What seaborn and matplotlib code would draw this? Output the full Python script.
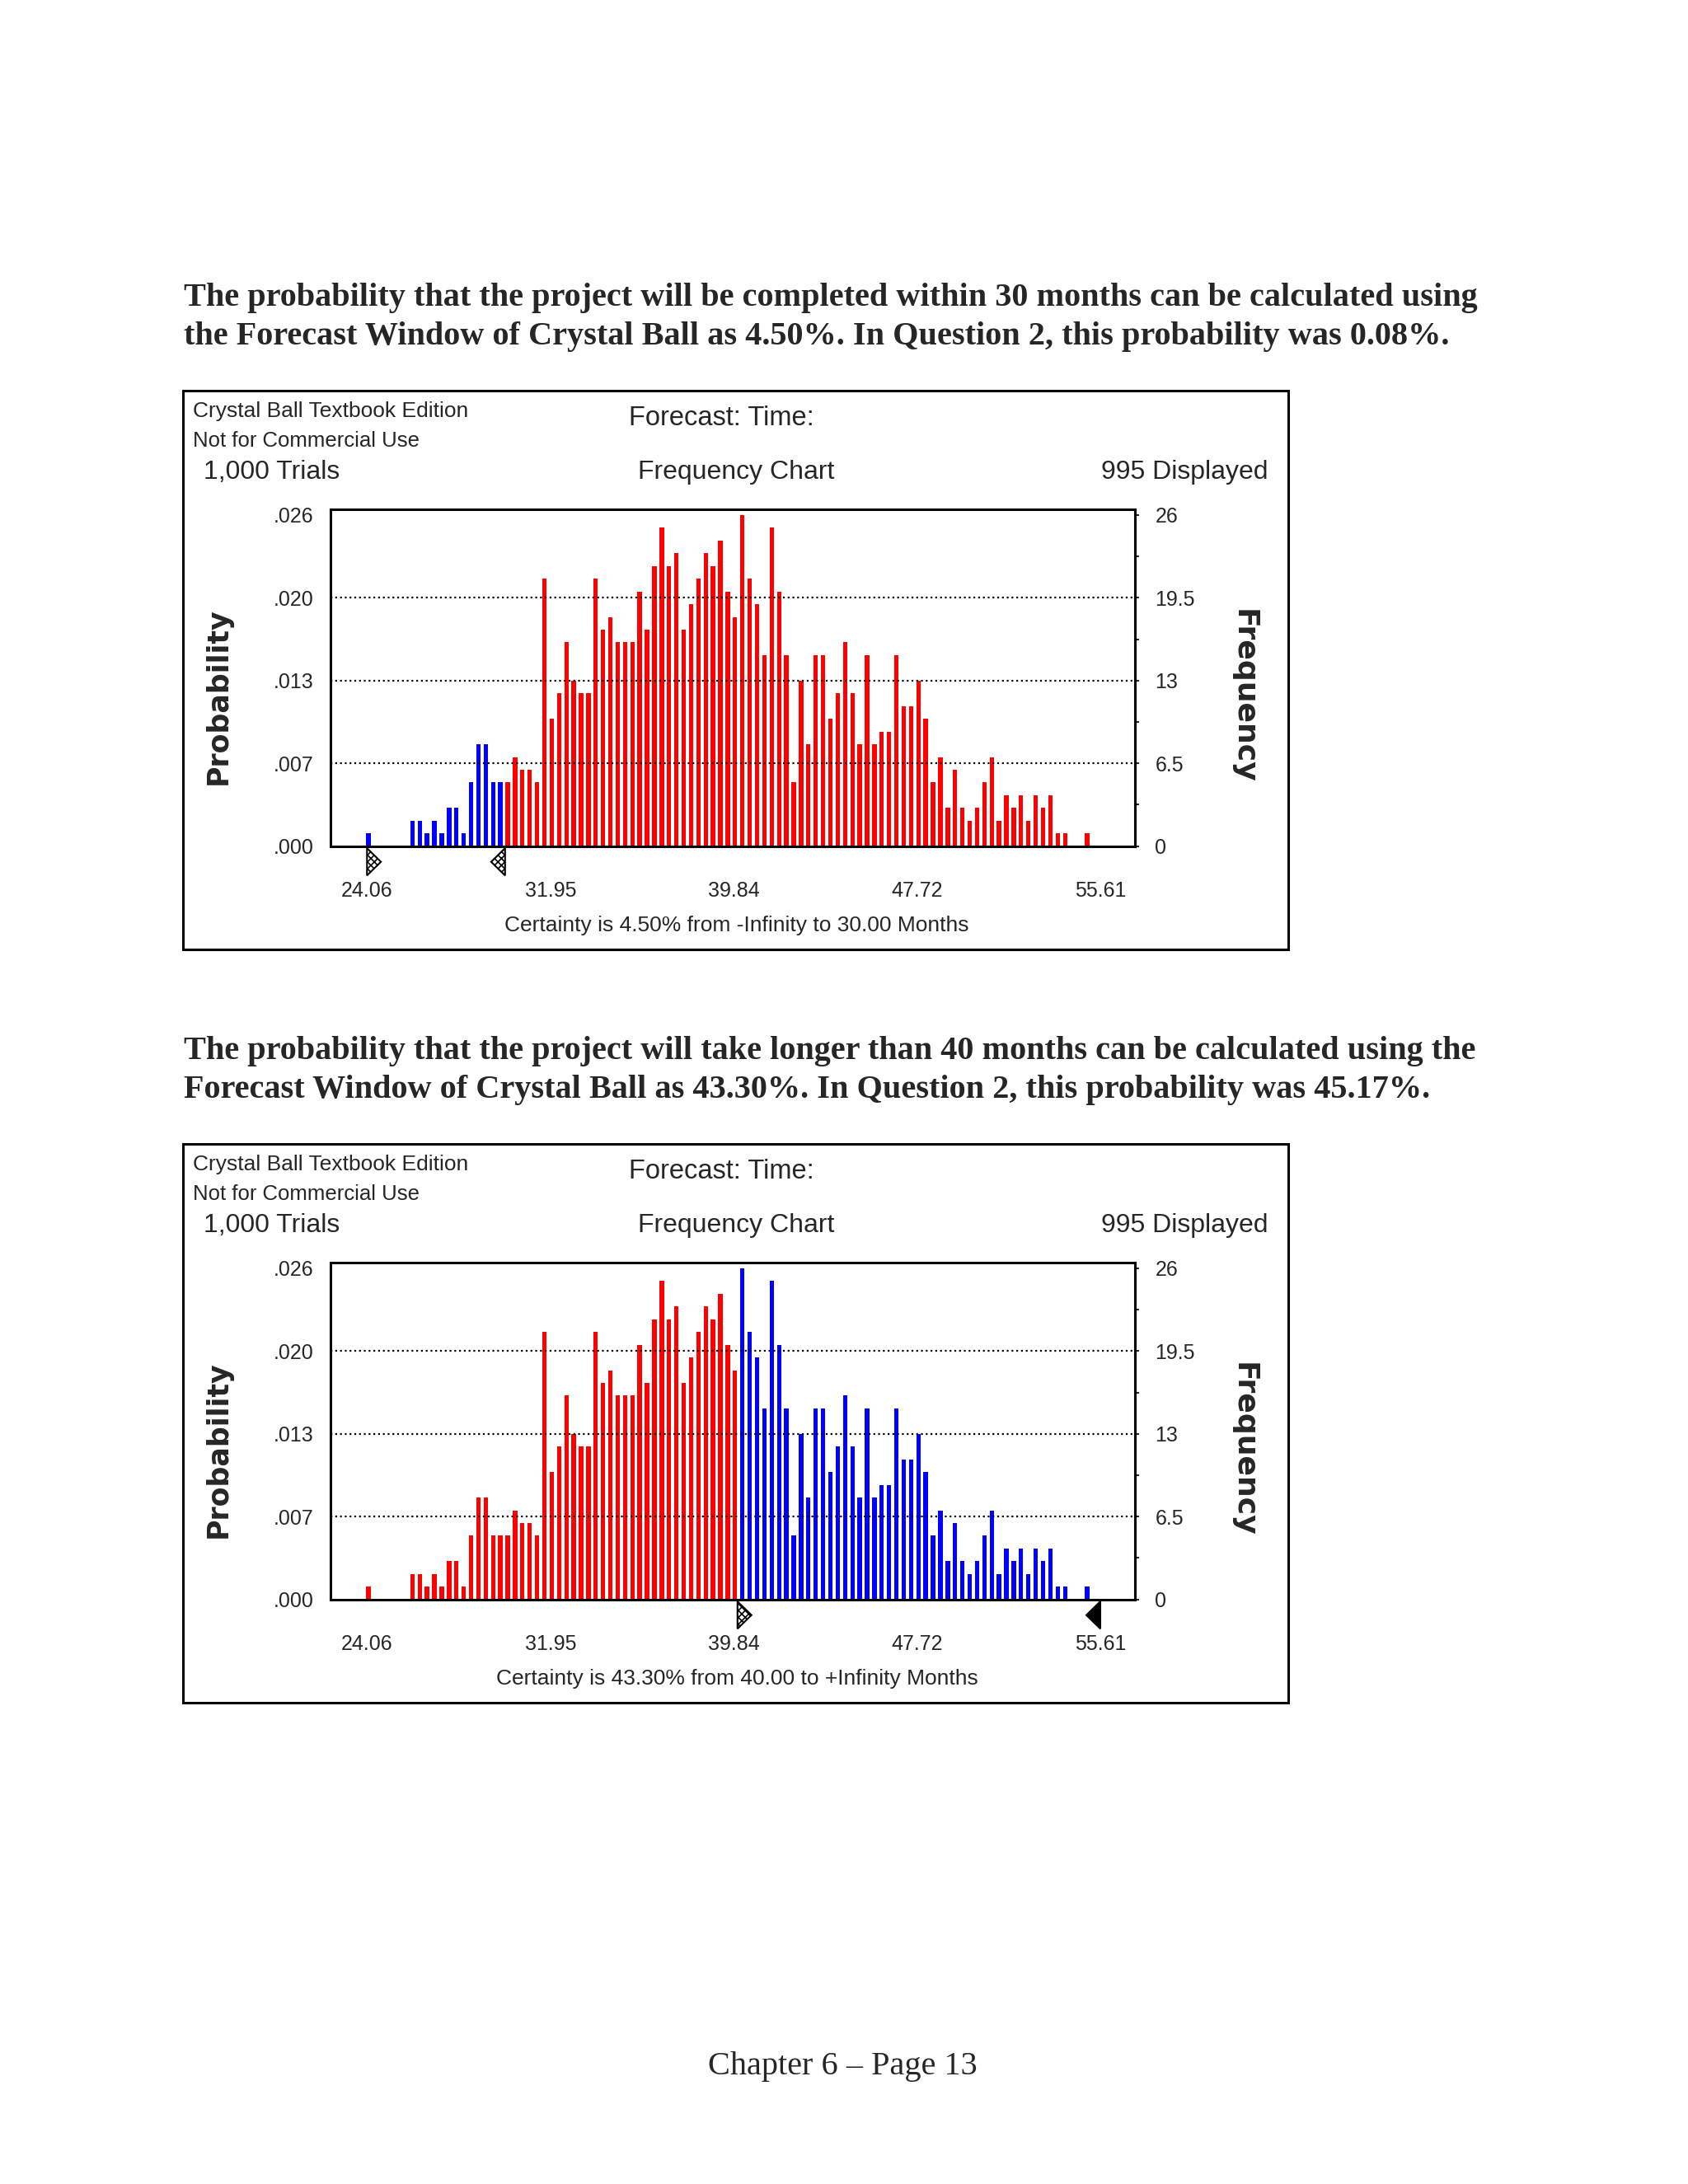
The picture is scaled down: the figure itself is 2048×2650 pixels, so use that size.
"""
plot.py - Crystal Ball forecast windows (Chapter 6, page 13) redrawn with seaborn
"""
import numpy as np
import pandas as pd
import matplotlib
matplotlib.use("Agg")
import matplotlib.pyplot as plt
from matplotlib.patches import Rectangle, Polygon
import seaborn as sns

# ── Data (same 995 trials in both windows) ──
freq = [1, 0, 0, 0, 0, 0,
        2, 2, 1, 2, 1, 3, 3, 1, 5, 8, 8, 5, 5,
        5, 7, 6, 6, 5, 21, 10, 12, 16, 13, 12, 12, 21, 17, 18,
        16, 16, 16, 20, 17, 22, 25, 22, 23, 17, 19, 21, 23, 22, 24, 20, 18,
        26, 21, 19, 15, 25, 20, 15, 5, 13, 8, 15, 15, 10, 12, 16, 12, 8, 15,
        8, 9, 9, 15, 11, 11, 13, 10, 5, 7, 3, 6, 3, 2, 3, 5, 7, 2, 4, 3, 4,
        2, 4, 3, 4, 1, 1, 0, 0, 1]
first_bin = 24.12          # centre of first group (months)
bin_width = 0.3155         # (55.61 - 24.06) / 100
x_ticks = [24.06, 31.95, 39.84, 47.72, 55.61]
freq_ticks = [0, 6.5, 13, 19.5, 26]
trials = 1000
displayed = 995

paragraphs = [
    ["The probability that the project will be completed within 30 months can be calculated using",
     "the Forecast Window of Crystal Ball as 4.50%. In Question 2, this probability was 0.08%."],
    ["The probability that the project will take longer than 40 months can be calculated using the",
     "Forecast Window of Crystal Ball as 43.30%. In Question 2, this probability was 45.17%."],
]
certainty = ["Certainty is 4.50% from -Infinity to 30.00 Months",
             "Certainty is 43.30% from 40.00 to +Infinity Months"]
ranges = [(-np.inf, 30.00), (40.00, np.inf)]
# grabber triangles: (value, pointing, style)
grabbers = [[(24.06, "right", "hatch"), (30.00, "left", "hatch")],
            [(40.00, "right", "hatch"), (55.61, "left", "solid")]]

RED, BLUE = "#ff0000", "#0000ff"
SANS = ["Liberation Sans", "DejaVu Sans"]
SERIF = ["Liberation Serif", "DejaVu Serif"]

W, H = 2048, 2650
sns.set_style("white")
plt.rcParams["font.family"] = SANS
plt.rcParams["hatch.linewidth"] = 1.2

fig = plt.figure(figsize=(W / 100, H / 100), dpi=100, facecolor="white")


def fx(px):
    return px / W


def fy(py):
    return 1 - py / H


centers = first_bin + bin_width * np.arange(len(freq))


def draw_block(k, dy):
    lo, hi = ranges[k]

    # paragraph above the window
    for i, line in enumerate(paragraphs[k]):
        fig.text(fx(223), fy(371 + 47 * i + dy), line, family=SERIF,
                 fontsize=29, fontweight="bold", ha="left", va="baseline")

    # window frame
    fig.add_artist(Rectangle((fx(222), fy(1152 + dy)), fx(1563) - fx(222),
                             (1152 - 474) / H, transform=fig.transFigure,
                             fill=False, ec="black", lw=2.2))

    # header texts
    fig.text(fx(234), fy(499 + dy), "Crystal Ball Textbook Edition",
             fontsize=19, ha="left", va="center")
    fig.text(fx(234), fy(535 + dy), "Not for Commercial Use",
             fontsize=18.5, ha="left", va="center")
    fig.text(fx(875), fy(508 + dy), "Forecast: Time:",
             fontsize=23.5, ha="center", va="center")
    fig.text(fx(247), fy(573 + dy), f"{trials:,} Trials",
             fontsize=23, ha="left", va="center")
    fig.text(fx(893), fy(573 + dy), "Frequency Chart",
             fontsize=23, ha="center", va="center")
    fig.text(fx(1538), fy(573 + dy), f"{displayed} Displayed",
             fontsize=23, ha="right", va="center")

    ax = fig.add_axes([fx(401), fy(1026.7 + dy), fx(1377) - fx(401),
                       (1026.7 - 617.7) / H])

    df = pd.DataFrame({"months": centers, "freq": freq})
    df["part"] = np.where((df["months"] >= lo) & (df["months"] <= hi), "in", "out")
    sns.barplot(data=df, x="months", y="freq", hue="part", hue_order=["in", "out"],
                palette={"in": BLUE, "out": RED}, native_scale=True, dodge=False,
                width=0.6, saturation=1, linewidth=0, errorbar=None,
                legend=False, ax=ax, zorder=2)

    ax.set_xlim(22.49, 57.10)
    ax.set_ylim(0, 26.47)
    ax.set_xlabel("")
    ax.set_ylabel("")

    # dotted gridlines drawn over the bars
    for t in freq_ticks[1:-1]:
        ax.axhline(t, color="black", lw=1.6, ls=(0, (1, 1.6)), zorder=3)

    ax.set_xticks(x_ticks, labels=[f"{t:.2f}" for t in x_ticks])
    ax.set_xticks([(a + b) / 2 for a, b in zip(x_ticks[:-1], x_ticks[1:])], minor=True)
    ax.set_yticks(freq_ticks,
                  labels=[f"{t / displayed:.3f}".lstrip("0") for t in freq_ticks])
    minor_y = [(a + b) / 2 for a, b in zip(freq_ticks[:-1], freq_ticks[1:])]
    ax.set_yticks(minor_y, minor=True)
    ax.tick_params(axis="both", which="both", direction="out", length=3.6,
                   width=1.5, color="black", labelsize=18)
    ax.tick_params(axis="y", pad=11)
    ax.tick_params(axis="x", pad=27)

    sec = ax.secondary_yaxis("right")
    sec.set_yticks(freq_ticks, labels=[f"{t:g}" for t in freq_ticks])
    sec.set_yticks(minor_y, minor=True)
    sec.tick_params(which="both", direction="out", length=3.6, width=1.5,
                    labelsize=18, pad=14)
    sec.spines["right"].set_linewidth(2.2)

    for s in ax.spines.values():
        s.set_color("black")
        s.set_linewidth(2.2)

    # grabber triangles under the axis
    tw, th = 0.6, 0.081
    for val, side, style in grabbers[k]:
        tip = val + tw if side == "right" else val - tw
        tri = Polygon([(val, -0.006), (val, -0.006 - th), (tip, -0.006 - th / 2)],
                      closed=True, transform=ax.get_xaxis_transform(),
                      clip_on=False, lw=1.5, ec="black",
                      fc="black" if style == "solid" else "white",
                      hatch=None if style == "solid" else "xxxx", zorder=4)
        ax.add_patch(tri)

    # axis titles and certainty line
    fig.text(fx(265), fy(845 + dy), "Probability", family=["DejaVu Sans"],
             fontsize=25, fontweight="bold", rotation=90, ha="center", va="center")
    fig.text(fx(1509), fy(845 + dy), "Frequency", family=["DejaVu Sans"],
             fontsize=26, fontweight="bold", rotation=270, ha="center", va="center")
    fig.text(fx(894), fy(1123 + dy), certainty[k],
             fontsize=19, ha="center", va="center")


draw_block(0, 0)
draw_block(1, 914)

fig.text(fx(1022), fy(2508), "Chapter 6 \u2013 Page 13", family=SERIF,
         fontsize=29, ha="center", va="center")

fig.savefig("out.png", dpi=100, facecolor="white")
print("saved out.png")
